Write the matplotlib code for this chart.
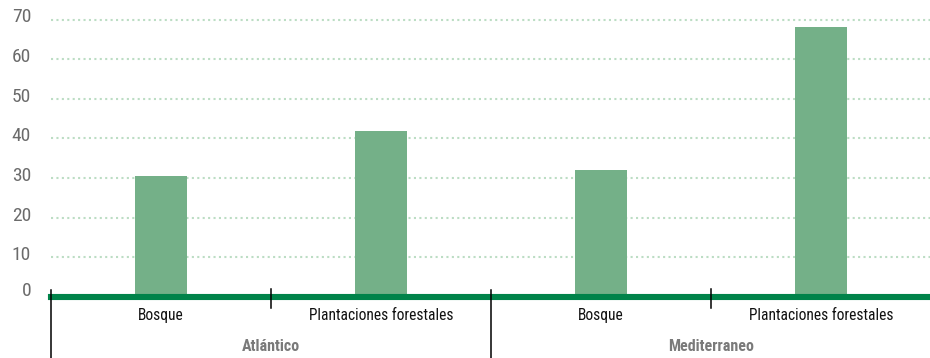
import matplotlib
matplotlib.use("Agg")
import matplotlib.pyplot as plt
from matplotlib import font_manager as fm
from matplotlib.transforms import offset_copy

names = {f.name for f in fm.fontManager.ttflist}
cond = None
for cand in ["Roboto Condensed", "Liberation Sans Narrow", "DejaVu Sans Condensed"]:
    if cand in names:
        cond = cand
        break
fam = [cond, "DejaVu Sans"] if cond else ["DejaVu Sans"]
plt.rcParams["font.family"] = fam

groups = ["Atlántico", "Mediterraneo"]
categories = ["Bosque", "Plantaciones forestales", "Bosque", "Plantaciones forestales"]
values = [30.6, 42, 32.1, 68]
yticks = [0, 10, 20, 30, 40, 50, 60, 70]

W, H = 930, 358
fig = plt.figure(figsize=(W / 100, H / 100), dpi=100)
x0, x1 = 51 / W, 931 / W
y0 = 1 - 297 / H
y1 = 1 - 19.5 / H
ax = fig.add_axes([x0, y0, x1 - x0, y1 - y0])

n = len(categories)
pos = list(range(n))
ax.bar(pos, values, width=0.24, color="#74B088", zorder=2)
ax.set_xlim(-0.5, n - 0.5)
ax.set_ylim(0, 70)

for t in yticks[1:]:
    ax.axhline(t, color="#BCDDC4", lw=1.5, ls=(0, (1, 1.6)), zorder=1, clip_on=False)
ax.axhline(0, color="#00834A", lw=4.4, zorder=3, clip_on=False)

for s in ax.spines.values():
    s.set_visible(False)
ax.set_xticks([])
ax.set_yticks([])
for t in yticks:
    dy = 4 if t == 0 else 0
    tr = offset_copy(ax.get_yaxis_transform(), fig=fig, x=-20, y=2 + dy, units="dots")
    ax.text(0, t, str(t), transform=tr, ha="right", va="center", color="#6B6B6B", fontsize=14)

trans = ax.get_xaxis_transform()
for i in range(n + 1):
    xb = i - 0.5
    if i % 2 == 0:
        ax.plot([xb, xb], [0.025, -0.24], transform=trans, color="black", lw=1.1, clip_on=False, zorder=4)
    else:
        ax.plot([xb, xb], [0.03, -0.04], transform=trans, color="black", lw=1.1, clip_on=False, zorder=4)

for i, c in enumerate(categories):
    ax.text(i, -0.068, c, transform=trans, ha="center", va="center", fontsize=11.2, color="#111111")
for g, name in enumerate(groups):
    ax.text(2 * g + 0.5, -0.18, name, transform=trans, ha="center", va="center",
            fontsize=11.5, color="#7A7A7A", fontweight="bold")

fig.savefig("out.png", dpi=100)
